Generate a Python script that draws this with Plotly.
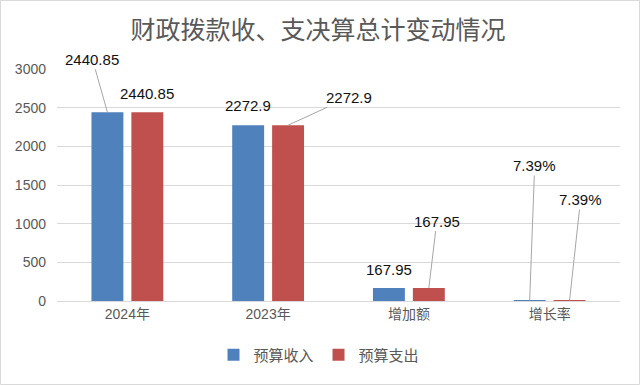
import plotly.graph_objects as go

categories = ["2024年", "2023年", "增加额", "增长率"]
income = [2440.85, 2272.9, 167.95, 7.39]
expense = [2440.85, 2272.9, 167.95, 7.39]
income_text = ["2440.85", "2272.9", "167.95", "7.39%"]
expense_text = ["2440.85", "2272.9", "167.95", "7.39%"]
series_names = ["预算收入", "预算支出"]
y_ticks = [0, 500, 1000, 1500, 2000, 2500, 3000]

BLUE = "#4f81bd"
RED = "#c0504d"
GRAY = "#595959"

W, H = 640, 385
L, R, T, B = 57, 20, 69, 84
PW, PH = W - L - R, H - T - B

fig = go.Figure()
fig.add_trace(go.Bar(x=categories, y=income, name=series_names[0],
                     marker=dict(color=BLUE, line=dict(width=0))))
fig.add_trace(go.Bar(x=categories, y=expense, name=series_names[1],
                     marker=dict(color=RED, line=dict(width=0))))

bargap = 0.433
slot = (1 - bargap) / 2
off = slot / 2

label_font = dict(family="Liberation Sans, Arial, sans-serif", size=15, color="#111111")

# (series, category index, mode, dx, dy)
label_specs = [
    (0, 0, "leader", -15, -53),
    (1, 0, "plain", 0, 19),
    (0, 1, "plain", 0, 20),
    (1, 1, "leader", 61, -28),
    (0, 2, "plain", 0, 19),
    (1, 2, "leader", 8, -67),
    (0, 3, "leader", 5, -135),
    (1, 3, "leader", 11, -101),
]
for s, i, mode, dx, dy in label_specs:
    vals = income if s == 0 else expense
    texts = income_text if s == 0 else expense_text
    xpos = i - off if s == 0 else i + off
    if mode == "leader":
        fig.add_annotation(x=xpos, y=vals[i], xref="x", yref="y", text=texts[i],
                           showarrow=True, arrowhead=0, arrowwidth=1, arrowcolor="#a6a6a6",
                           ax=dx, ay=dy, axref="pixel", ayref="pixel",
                           standoff=0, startstandoff=0, font=label_font)
    else:
        fig.add_annotation(x=xpos, y=vals[i], xref="x", yref="y", text=texts[i],
                           showarrow=False, xshift=dx, yshift=dy, yanchor="middle",
                           font=label_font)

# outer border
fig.add_shape(type="rect", xref="paper", yref="paper",
              x0=-(L - 0.5) / PW, x1=1 + (R - 0.5) / PW,
              y0=-(B - 0.5) / PH, y1=1 + (T - 0.5) / PH,
              line=dict(color="#d9d9d9", width=1), fillcolor="rgba(0,0,0,0)", layer="below")

fig.update_layout(
    width=W, height=H,
    margin=dict(l=L, r=R, t=T, b=B),
    paper_bgcolor="white", plot_bgcolor="white",
    title=dict(text="财政拨款收、支决算总计变动情况", x=0.497, xanchor="center",
               y=1 - 30 / H, yanchor="middle",
               font=dict(family="Noto Sans CJK SC", size=25, color=GRAY)),
    barmode="group", bargap=bargap, bargroupgap=0.2,
    showlegend=True,
    legend=dict(orientation="h", x=(319 - L) / PW, xanchor="center", y=(301 - 355) / PH,
                yanchor="middle", font=dict(family="Noto Sans CJK SC", size=15, color=GRAY),
                traceorder="normal", itemwidth=30, tracegroupgap=0),
    font=dict(family="Liberation Sans, Noto Sans CJK SC", color=GRAY),
)
fig.update_xaxes(showgrid=False, showline=True, linecolor="#d9d9d9", linewidth=1,
                 ticks="", tickfont=dict(family="Liberation Sans, Noto Sans CJK SC", size=14, color=GRAY))
fig.update_yaxes(range=[0, 3000], tickvals=y_ticks, showgrid=True, gridcolor="#d9d9d9",
                 gridwidth=1, zeroline=False, showline=False, ticks="",
                 ticklabelstandoff=10,
                 tickfont=dict(family="Liberation Sans", size=14, color=GRAY))

fig.write_html("out.html", config={"displayModeBar": False},
               post_script="document.body.style.margin='0';")
